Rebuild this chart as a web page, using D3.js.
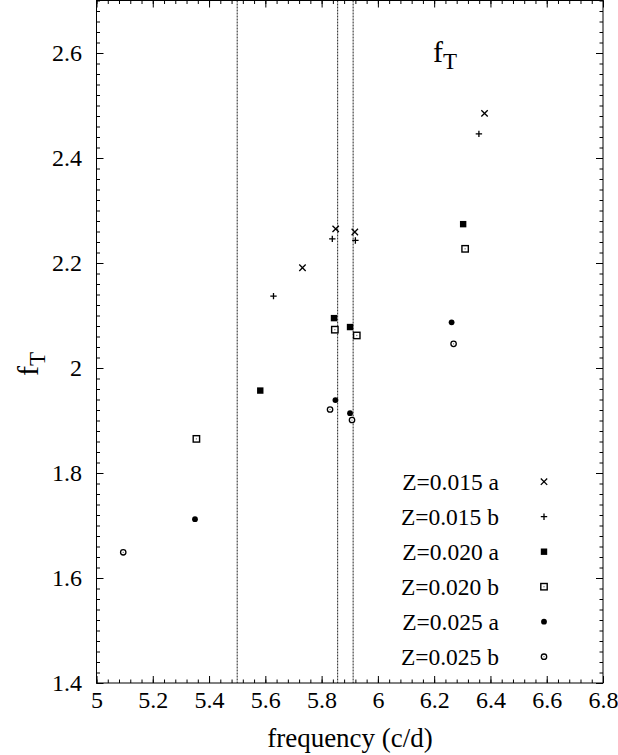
<!DOCTYPE html>
<html><head><meta charset="utf-8">
<script src="https://cdn.jsdelivr.net/npm/d3@7/dist/d3.min.js"></script>
<style>
html,body{margin:0;padding:0;background:#fff;}
svg text{font-family:"Liberation Serif","Times New Roman",serif;fill:#000;}
</style></head>
<body>
<svg id="chart" width="618" height="755"></svg>
<script>
// ---- data ----
const seriesNames = ["Z=0.015 a","Z=0.015 b","Z=0.020 a","Z=0.020 b","Z=0.025 a","Z=0.025 b"];
const seriesSymbols = ["times","plus","fsquare","osquare","fcircle","ocircle"];
const freq_015a = [5.732, 5.850, 5.918, 6.379];
const fT_015a   = [2.191, 2.265, 2.259, 2.485];
const freq_015b = [5.629, 5.838, 5.920, 6.359];
const fT_015b   = [2.137, 2.246, 2.243, 2.446];
const freq_020a = [5.582, 5.844, 5.901, 6.303];
const fT_020a   = [1.957, 2.095, 2.078, 2.274];
const freq_020b = [5.355, 5.847, 5.925, 6.310];
const fT_020b   = [1.865, 2.073, 2.062, 2.227];
const freq_025a = [5.350, 5.849, 5.901, 6.262];
const fT_025a   = [1.712, 1.939, 1.914, 2.087];
const freq_025b = [5.095, 5.830, 5.908, 6.269];
const fT_025b   = [1.649, 1.921, 1.901, 2.046];
const verticalLines = [5.5, 5.857, 5.912];
const xTicks = [5, 5.2, 5.4, 5.6, 5.8, 6, 6.2, 6.4, 6.6, 6.8];
const yTicks = [1.4, 1.6, 1.8, 2, 2.2, 2.4, 2.6];
const xDomain = [5, 6.8];
const yDomain = [1.4, 2.7];

const seriesFreq = [freq_015a, freq_015b, freq_020a, freq_020b, freq_025a, freq_025b];
const seriesFT = [fT_015a, fT_015b, fT_020a, fT_020b, fT_025a, fT_025b];

// ---- layout ----
const L = 96.5, R = 603, T = 0.5, B = 683;
const FONT = '"Liberation Serif","Times New Roman",serif';
const svg = d3.select("#chart");
const x = d3.scaleLinear().domain(xDomain).range([L, R]);
const y = d3.scaleLinear().domain(yDomain).range([B, T]);

// vertical reference lines
svg.append("g").selectAll("line").data(verticalLines).join("line")
  .attr("x1", d => x(d)).attr("x2", d => x(d))
  .attr("y1", T).attr("y2", B)
  .attr("stroke", "#222").attr("stroke-width", 1)
  .attr("stroke-dasharray", "2,1");

// axes with ticks (inward), mirrored
const fmt = d => String(+d.toFixed(2));
const xMinor = d3.range(0, 46).map(i => 5 + i * 0.04).filter(v => v <= 6.8001);
const yMinor = d3.range(0, 66).map(i => 1.4 + i * 0.02).filter(v => v <= 2.7001);

function styleAxis(g) {
  g.attr("font-family", FONT).attr("font-size", 24);
}

const xAxisB = d3.axisBottom(x).tickValues(xTicks).tickSize(-7).tickFormat(fmt).tickPadding(8);
svg.append("g").attr("transform", `translate(0,${B})`).call(xAxisB).call(styleAxis);
const xAxisT = d3.axisTop(x).tickValues(xTicks).tickSize(-7).tickFormat("");
svg.append("g").attr("transform", `translate(0,${T})`).call(xAxisT);
const yAxisL = d3.axisLeft(y).tickValues(yTicks).tickSize(-7).tickFormat(fmt).tickPadding(14.5);
svg.append("g").attr("transform", `translate(${L},0)`).call(yAxisL).call(styleAxis);
const yAxisR = d3.axisRight(y).tickValues(yTicks).tickSize(-7).tickFormat("");
svg.append("g").attr("transform", `translate(${R},0)`).call(yAxisR);

// minor ticks
const mxB = d3.axisBottom(x).tickValues(xMinor).tickSize(-3.5).tickFormat("");
const mxT = d3.axisTop(x).tickValues(xMinor).tickSize(-3.5).tickFormat("");
const myL = d3.axisLeft(y).tickValues(yMinor).tickSize(-3.5).tickFormat("");
const myR = d3.axisRight(y).tickValues(yMinor).tickSize(-3.5).tickFormat("");
svg.append("g").attr("transform", `translate(0,${B})`).call(mxB);
svg.append("g").attr("transform", `translate(0,${T})`).call(mxT);
svg.append("g").attr("transform", `translate(${L},0)`).call(myL);
svg.append("g").attr("transform", `translate(${R},0)`).call(myR);

svg.selectAll(".domain").remove();
svg.selectAll(".tick line").attr("stroke", "#000").attr("stroke-width", 1);
svg.selectAll(".tick text").style("font-size", "24px").style("font-family", FONT).style("fill", "#000");

// frame
svg.append("rect").attr("x", L).attr("y", T).attr("width", R - L).attr("height", B - T)
  .attr("fill", "none").attr("stroke", "#000").attr("stroke-width", 1);

// symbols
function drawSymbol(g, type) {
  const s = 3.2;
  if (type === "times") {
    g.append("path").attr("d", `M${-s},${-s}L${s},${s}M${-s},${s}L${s},${-s}`)
      .attr("stroke", "#000").attr("stroke-width", 1.3).attr("fill", "none");
  } else if (type === "plus") {
    g.append("path").attr("d", `M${-s},0L${s},0M0,${-s}L0,${s}`)
      .attr("stroke", "#000").attr("stroke-width", 1.3).attr("fill", "none");
  } else if (type === "fsquare") {
    g.append("rect").attr("x", -3.2).attr("y", -3.2).attr("width", 6.4).attr("height", 6.4).attr("fill", "#000");
  } else if (type === "osquare") {
    g.append("rect").attr("x", -3.2).attr("y", -3.2).attr("width", 6.4).attr("height", 6.4)
      .attr("fill", "#fff").attr("stroke", "#000").attr("stroke-width", 1.4);
    g.append("rect").attr("x", -0.6).attr("y", -0.6).attr("width", 1.2).attr("height", 1.2).attr("fill", "#777");
  } else if (type === "fcircle") {
    g.append("circle").attr("r", 2.9).attr("fill", "#000");
  } else if (type === "ocircle") {
    g.append("circle").attr("r", 2.7).attr("fill", "#fff").attr("stroke", "#000").attr("stroke-width", 1.3);
    g.append("circle").attr("r", 0.6).attr("fill", "#555");
  }
}

seriesNames.forEach((name, i) => {
  const pts = seriesFreq[i].map((f, j) => ({f, v: seriesFT[i][j]}));
  const g = svg.append("g");
  g.selectAll("g").data(pts).join("g")
    .attr("transform", d => `translate(${x(d.f)},${y(d.v)})`)
    .each(function() { drawSymbol(d3.select(this), seriesSymbols[i]); });
});

// legend
const legY0 = 481.7, legDy = 35;
seriesNames.forEach((name, i) => {
  const yy = legY0 + i * legDy;
  svg.append("text").attr("x", 499).attr("y", yy + 8).attr("text-anchor", "end")
    .style("font-size", "23.5px").style("font-family", FONT).text(name);
  drawSymbol(svg.append("g").attr("transform", `translate(544,${yy})`), seriesSymbols[i]);
});

// title fT inside
const title = svg.append("text").attr("x", 433).attr("y", 62).style("font-size", "30px").style("font-family", FONT);
title.append("tspan").text("f");
title.append("tspan").attr("dy", 7).style("font-size", "23px").text("T");

// y axis label
const yl = svg.append("text").attr("transform", "translate(38,376) rotate(-90)").style("font-size", "30px").style("font-family", FONT);
yl.append("tspan").text("f");
yl.append("tspan").attr("dy", 7).style("font-size", "23px").text("T");

// x axis label
svg.append("text").attr("x", 350).attr("y", 747).attr("text-anchor", "middle")
  .style("font-size", "27px").style("font-family", FONT).text("frequency (c/d)");
</script>
</body></html>
